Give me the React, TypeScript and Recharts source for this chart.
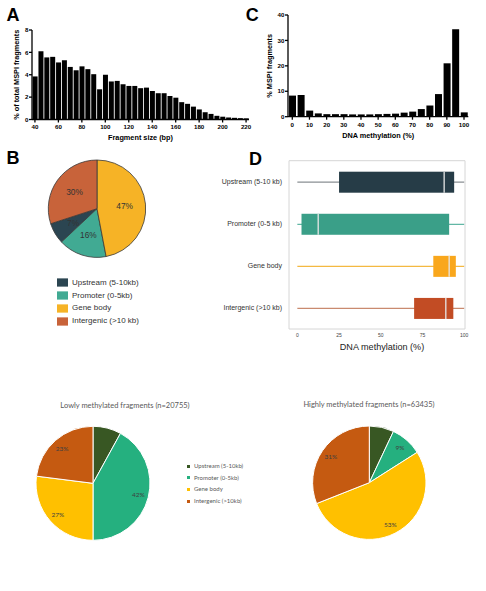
import React from "react";
import {
  BarChart,
  Bar,
  XAxis,
  YAxis,
  PieChart,
  Pie,
  Cell,
  Legend,
  ReferenceArea,
  Label,
} from "recharts";

// A: fragment size distribution
const fragmentSizes = [
  40, 45, 50, 55, 60, 65, 70, 75, 80, 85, 90, 95, 100, 105, 110, 115, 120, 125, 130,
  135, 140, 145, 150, 155, 160, 165, 170, 175, 180, 185, 190, 195, 200, 205, 210, 215, 220,
];
const fragmentPercents = [
  3.85, 6.1, 5.55, 5.6, 5.1, 5.3, 4.7, 4.4, 4.75, 4.5, 4.05, 2.7, 4.0, 3.4, 3.45, 3.15,
  3.0, 3.0, 2.8, 2.85, 2.55, 2.35, 2.35, 2.1, 1.95, 1.55, 1.4, 1.15, 0.9, 0.65, 0.5,
  0.33, 0.25, 0.18, 0.15, 0.12, 0.1,
];

// C: methylation distribution
const methylationBins = [
  0, 5, 10, 15, 20, 25, 30, 35, 40, 45, 50, 55, 60, 65, 70, 75, 80, 85, 90, 95, 100,
];
const methylationPercents = [
  8.3, 8.5, 2.4, 1.3, 1.0, 1.0, 1.0, 0.9, 0.9, 0.9, 1.0, 1.1, 1.2, 1.6, 2.0, 3.0, 4.4,
  8.9, 21, 34.4, 1.7,
];

// B: genomic regions of all fragments
const regionNames = ["Upstream (5-10kb)", "Promoter (0-5kb)", "Gene body", "Intergenic (>10 kb)"];
const regionPercents = [7, 16, 47, 30];
const regionColors = ["#2b4551", "#41aa93", "#f6b326", "#c8633a"];

// D: methylation per region (box plot)
const boxGroups = ["Upstream (5-10 kb)", "Promoter (0-5 kb)", "Gene body", "Intergenic (>10 kb)"];
const boxLow = [0, 0, 0, 0];
const boxQ1 = [25, 2.5, 81.5, 70];
const boxMedian = [88, 12.5, 91, 89];
const boxQ3 = [94, 91, 95, 93.5];
const boxHigh = [100, 100, 100, 100];
const boxColors = ["#263c47", "#3a9f88", "#f9a71c", "#c24c24"];
const whiskerColors = ["#8a8f93", "#62b7a5", "#f4b942", "#c98a6f"];

// bottom pies
const bottomNames = ["Upstream (5-10kb)", "Promoter (0-5kb)", "Gene body", "Intergenic (>10kb)"];
const lowPercents = [8, 42, 27, 23];
const highPercents = [7, 9, 53, 31];
const bottomColors = ["#385723", "#25b07f", "#ffc000", "#c55a11"];

const fragmentData = fragmentSizes.map((s, i) => ({ size: s, pct: fragmentPercents[i] }));
const methData = methylationBins.map((b, i) => ({ bin: b, pct: methylationPercents[i] }));
const regionData = regionNames.map((n, i) => ({ name: n, value: regionPercents[i], fill: regionColors[i] }));
const boxData = boxGroups.map((n, i) => ({
  name: n,
  min: boxLow[i],
  q1: boxQ1[i],
  median: boxMedian[i],
  q3: boxQ3[i],
  max: boxHigh[i],
  color: boxColors[i],
  whisker: whiskerColors[i],
}));
const lowData = bottomNames.map((n, i) => ({ name: n, value: lowPercents[i], fill: bottomColors[i] }));
const highData = bottomNames.map((n, i) => ({ name: n, value: highPercents[i], fill: bottomColors[i] }));

const RAD = Math.PI / 180;
const boldTick = { fontSize: 6.2, fontWeight: 700, fill: "#000" };
const boldTitle = { fontSize: 7.3, fontWeight: 700, fill: "#000" };
const blackLine = { stroke: "#000", strokeWidth: 1.3 };

function pieLabel(ratio: number, style: any, skipFirst: boolean) {
  return (props: any) => {
    const { cx, cy, midAngle, outerRadius, value, index } = props;
    if (skipFirst && index === 0) return null;
    const r = outerRadius * ratio;
    const x = cx + r * Math.cos(-midAngle * RAD);
    const y = cy + r * Math.sin(-midAngle * RAD);
    return (
      <text x={x} y={y} textAnchor="middle" dominantBaseline="central" style={style}>
        {value}%
      </text>
    );
  };
}

function BoxShape(props: any) {
  const { x, y, width, height, payload } = props;
  const px = (v: number) => x + ((v - payload.min) / (payload.max - payload.min)) * width;
  const mid = y + height / 2;
  return (
    <g>
      <line x1={x} x2={x + width} y1={mid} y2={mid} stroke={payload.whisker} strokeWidth={1.2} />
      <rect
        x={px(payload.q1)}
        y={y}
        width={px(payload.q3) - px(payload.q1)}
        height={height}
        fill={payload.color}
      />
      <line
        x1={px(payload.median)}
        x2={px(payload.median)}
        y1={y}
        y2={y + height}
        stroke="#e6e6e6"
        strokeWidth={1.3}
      />
    </g>
  );
}

function GroupTick(props: any) {
  const { x, y, payload } = props;
  return (
    <text x={x} y={y} textAnchor="end" dominantBaseline="central" fontSize={7} fill="#333">
      {payload.value}
    </text>
  );
}

function Letter({ x, y, children }: { x: number; y: number; children: string }) {
  return (
    <div
      style={{
        position: "absolute",
        left: x,
        top: y,
        fontSize: 18,
        lineHeight: "18px",
        fontWeight: 700,
        color: "#000",
      }}
    >
      {children}
    </div>
  );
}

const sortBy = (names: string[]) => (item: any) => names.indexOf(item.value);

export default function App() {
  return (
    <div
      style={{
        position: "absolute",
        left: 0,
        top: 0,
        width: 486,
        height: 591,
        background: "#fff",
        overflow: "hidden",
        fontFamily: "'Liberation Sans', Arial, sans-serif",
      }}
    >
      <Letter x={6.5} y={6}>A</Letter>
      <Letter x={245.7} y={6}>C</Letter>
      <Letter x={6.5} y={149.4}>B</Letter>
      <Letter x={249} y={150.4}>D</Letter>

      {/* A */}
      <div style={{ position: "absolute", left: 0, top: 0 }}>
        <BarChart
          width={260}
          height={146}
          data={fragmentData}
          margin={{ top: 30, right: 11, bottom: 12.5, left: 0 }}
          barCategoryGap="10%"
        >
          <XAxis
            dataKey="size"
            interval={3}
            height={14}
            tickSize={3}
            tickMargin={2.5}
            axisLine={blackLine}
            tickLine={blackLine}
            tick={boldTick}
          >
            <Label value="Fragment size (bp)" position="bottom" offset={1} style={boldTitle} />
          </XAxis>
          <YAxis
            domain={[0, 8]}
            ticks={[0, 2, 4, 6, 8]}
            width={32}
            tickSize={3}
            tickMargin={0.5}
            axisLine={blackLine}
            tickLine={blackLine}
            tick={boldTick}
          >
            <Label
              value="% of total MSPI fragments"
              angle={-90}
              position="insideLeft"
              offset={16.5}
              style={{ ...boldTitle, textAnchor: "middle" }}
            />
          </YAxis>
          <Bar dataKey="pct" fill="#000" isAnimationActive={false} />
        </BarChart>
      </div>

      {/* C */}
      <div style={{ position: "absolute", left: 240, top: 0 }}>
        <BarChart
          width={246}
          height={146}
          data={methData}
          margin={{ top: 15, right: 17.7, bottom: 15.3, left: 0 }}
          barCategoryGap="12%"
        >
          <XAxis
            dataKey="bin"
            interval={1}
            height={14}
            tickSize={3}
            tickMargin={2.5}
            axisLine={blackLine}
            tickLine={blackLine}
            tick={boldTick}
          >
            <Label value="DNA methylation (%)" position="bottom" offset={2.5} style={boldTitle} />
          </XAxis>
          <YAxis
            domain={[0, 40]}
            ticks={[0, 10, 20, 30, 40]}
            width={48}
            tickSize={3}
            tickMargin={0.5}
            axisLine={blackLine}
            tickLine={blackLine}
            tick={boldTick}
          >
            <Label
              value="% MSPI fragments"
              angle={-90}
              position="insideLeft"
              offset={29.7}
              style={{ ...boldTitle, textAnchor: "middle" }}
            />
          </YAxis>
          <Bar dataKey="pct" fill="#000" isAnimationActive={false} />
        </BarChart>
      </div>

      {/* B */}
      <div style={{ position: "absolute", left: 0, top: 140 }}>
        <PieChart width={220} height={200} margin={{ top: 0, right: 0, bottom: 0, left: 0 }}>
          <Pie
            data={regionData}
            dataKey="value"
            nameKey="name"
            cx={97}
            cy={68.7}
            outerRadius={48.7}
            startAngle={198}
            endAngle={558}
            stroke="#3a3a3a"
            strokeWidth={0.8}
            labelLine={false}
            label={pieLabel(0.57, { fontSize: 8.3, fill: "#333" }, false)}
            isAnimationActive={false}
          >
            {regionData.map((d, i) => (
              <Cell key={`b-${i}`} fill={d.fill} />
            ))}
          </Pie>
          <Legend
            layout="vertical"
            align="center"
            verticalAlign="bottom"
            iconType="rect"
            iconSize={11}
            itemSorter={sortBy(regionNames)}
            wrapperStyle={{
              left: 57,
              top: 137,
              bottom: "auto",
              width: 150,
              fontSize: 8,
              lineHeight: "12.7px",
            }}
            formatter={(value: string) => (
              <span style={{ color: "#333", whiteSpace: "nowrap" }}>{value}</span>
            )}
          />
        </PieChart>
      </div>

      {/* D */}
      <div style={{ position: "absolute", left: 200, top: 140 }}>
        <BarChart
          layout="vertical"
          width={286}
          height={225}
          data={boxData}
          margin={{ top: 20.7, right: 21, bottom: 24, left: 0 }}
          barSize={21}
        >
          <XAxis
            type="number"
            domain={[-5, 100.5]}
            ticks={[0, 25, 50, 75, 100]}
            allowDataOverflow
            height={12}
            axisLine={false}
            tickLine={false}
            tickSize={2}
            tickMargin={2}
            tick={{ fontSize: 5, fill: "#444" }}
          >
            <Label
              value="DNA methylation (%)"
              position="bottom"
              offset={3}
              dx={5}
              style={{ fontSize: 9.1, fill: "#222" }}
            />
          </XAxis>
          <YAxis
            type="category"
            dataKey="name"
            width={89}
            axisLine={false}
            tickLine={false}
            tickSize={5}
            tickMargin={2}
            tick={<GroupTick />}
          />
          <ReferenceArea x1={-5} x2={100.5} fill="none" stroke="#d6d6d6" strokeWidth={1} />
          <Bar dataKey={(d: any) => [d.min, d.max]} shape={BoxShape} isAnimationActive={false} />
        </BarChart>
      </div>

      {/* bottom titles */}
      <div
        style={{
          position: "absolute",
          left: 25,
          width: 200,
          top: 400.5,
          textAlign: "center",
          fontFamily: "Lato, sans-serif",
          fontSize: 7.5,
          lineHeight: "10px",
          color: "#595959",
        }}
      >
        Lowly methylated fragments (n=20755)
      </div>
      <div
        style={{
          position: "absolute",
          left: 269,
          width: 200,
          top: 400,
          textAlign: "center",
          fontFamily: "Lato, sans-serif",
          fontSize: 7.5,
          lineHeight: "10px",
          color: "#595959",
        }}
      >
        Highly methylated fragments (n=63435)
      </div>

      {/* bottom-left pie */}
      <div style={{ position: "absolute", left: 0, top: 385, fontFamily: "Lato, sans-serif" }}>
        <PieChart width={300} height={200} margin={{ top: 0, right: 0, bottom: 0, left: 0 }}>
          <Pie
            data={lowData}
            dataKey="value"
            nameKey="name"
            cx={93}
            cy={98.3}
            outerRadius={57}
            startAngle={90}
            endAngle={-270}
            stroke="#fff"
            strokeWidth={1}
            labelLine={false}
            label={pieLabel(0.82, { fontSize: 6.5, fill: "#404040" }, true)}
            isAnimationActive={false}
          >
            {lowData.map((d, i) => (
              <Cell key={`l-${i}`} fill={d.fill} />
            ))}
          </Pie>
          <Legend
            layout="vertical"
            align="center"
            verticalAlign="bottom"
            iconType="square"
            iconSize={3}
            itemSorter={sortBy(bottomNames)}
            wrapperStyle={{
              left: 187,
              top: 74.8,
              bottom: "auto",
              width: 100,
              fontSize: 6,
              lineHeight: "11.7px",
            }}
            formatter={(value: string) => (
              <span style={{ color: "#595959", whiteSpace: "nowrap" }}>{value}</span>
            )}
          />
        </PieChart>
      </div>

      {/* bottom-right pie */}
      <div style={{ position: "absolute", left: 250, top: 385, fontFamily: "Lato, sans-serif" }}>
        <PieChart width={236} height={200} margin={{ top: 0, right: 0, bottom: 0, left: 0 }}>
          <Pie
            data={highData}
            dataKey="value"
            nameKey="name"
            cx={119.3}
            cy={97.7}
            outerRadius={56.7}
            startAngle={90}
            endAngle={-270}
            stroke="#fff"
            strokeWidth={1}
            labelLine={false}
            label={pieLabel(0.82, { fontSize: 6.5, fill: "#404040" }, true)}
            isAnimationActive={false}
          >
            {highData.map((d, i) => (
              <Cell key={`h-${i}`} fill={d.fill} />
            ))}
          </Pie>
        </PieChart>
      </div>
    </div>
  );
}
